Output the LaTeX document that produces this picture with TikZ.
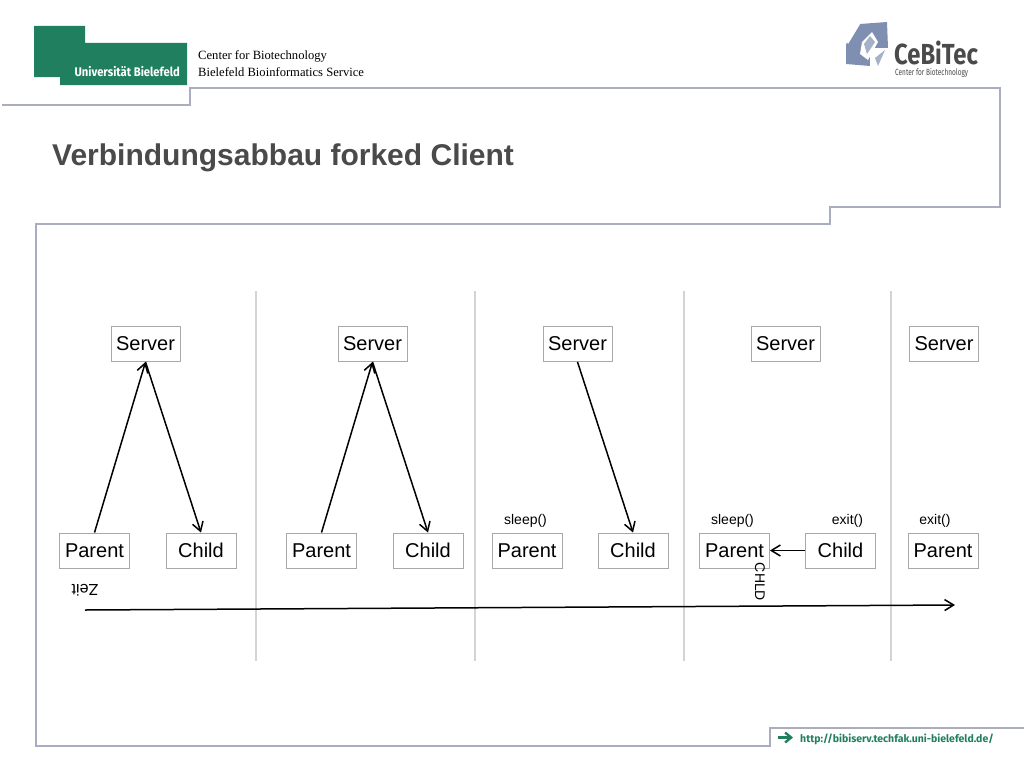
\documentclass[tikz,border=0pt]{standalone}
\usepackage{fontspec}
\usetikzlibrary{arrows.meta}
\setmainfont{Liberation Sans}
\newfontfamily\serifF{Liberation Serif}
\newfontfamily\condF{Fira Sans}
\definecolor{framec}{HTML}{A9ADBF}
\definecolor{sepc}{HTML}{D4D4D4}
\definecolor{boxc}{HTML}{A8A8A8}
\definecolor{greenc}{HTML}{1F7F5F}
\definecolor{titlec}{HTML}{4A4A4A}
\definecolor{logoblue}{HTML}{7F8FB2}
\tikzset{
  framel/.style={draw=framec,line width=1.6pt},
  sepl/.style={draw=sepc,line width=1.3pt},
  pbox/.style={draw=boxc,line width=0.9pt,fill=white,minimum height=35pt,inner sep=0pt,font=\fontsize{20}{22}\selectfont,text=black},
  small/.style={inner sep=0pt,font=\fontsize{14}{16}\selectfont,text=black},
  conn/.style={draw=black,line width=1.5pt,-{Straight Barb[length=9pt,width=11pt,line width=1.5pt]}},
}
\begin{document}
\begin{tikzpicture}[x=1pt,y=-1pt]
\useasboundingbox (0,0) rectangle (1024,768);
\fill[white] (0,0) rectangle (1024,768);
% frame
\draw[framel] (2,105) -- (190,105) -- (190,88) -- (1000,88) -- (1000,207) -- (830,207) -- (830,224) -- (36,224) -- (36,746) -- (770,746) -- (770,728) -- (1024,728);
% university logo
\fill[greenc] (34,26) -- (85,26) -- (85,43) -- (187,43) -- (187,85) -- (60,85) -- (60,77) -- (34,77) -- cycle;
\node[anchor=east,inner sep=0pt,text=white] (uni) at (180,72) {\condF\bfseries\fontsize{12.5}{14}\selectfont\scalebox{0.9}[1]{Universität Bielefeld}};
\node[anchor=west,inner sep=0pt,text=black] (cfb) at (198,56) {\serifF\fontsize{12.6}{14}\selectfont Center for Biotechnology};
\node[anchor=west,inner sep=0pt,text=black] (bbs) at (198,72) {\serifF\fontsize{12.6}{14}\selectfont Bielefeld Bioinformatics Service};
% CeBiTec logo
\fill[logoblue] (846,44) -- (851,39) -- (860,24) -- (887,22) -- (888,48) -- (872,48) -- (870,66) -- (846,64) -- cycle;
\fill[white] (852,24) -- (860,24) -- (848,44) -- (845,38) -- cycle;
\fill[white] (862,42) -- (872,32) -- (878,42) -- (868,60) -- (860,54) -- cycle;
\fill[logoblue!70] (864,44) -- (870,36) -- (875,42) -- (867,54) -- cycle;
\fill[white] (870,50) -- (888,48) -- (878,68) -- (870,66) -- cycle;
\fill[logoblue!70] (875,58) -- (885,50) -- (878,66) -- cycle;
\node[anchor=west,inner sep=0pt,text=titlec] (ceb) at (894,53) {\condF\bfseries\fontsize{29}{30}\selectfont\scalebox{0.82}[1]{CeBiTec}};
\node[anchor=west,inner sep=0pt,text=titlec] (cft) at (895,73) {\condF\fontsize{9}{10}\selectfont\scalebox{0.72}[1]{Center for Biotechnology}};
% title
\node[anchor=west,inner sep=0pt,text=titlec] (title) at (52,158) {\bfseries\fontsize{30}{32}\selectfont Verbindungsabbau forked Client};
% separators
\foreach \x in {256,475,684,891} \draw[sepl] (\x,291) -- (\x,661);
% nodes
\node[pbox,minimum width=69pt] (s1) at (145.5,344) {Server};
\node[pbox,minimum width=69pt] (s2) at (372.5,344) {Server};
\node[pbox,minimum width=69pt] (s3) at (577.5,344) {Server};
\node[pbox,minimum width=69pt] (s4) at (785.5,344) {Server};
\node[pbox,minimum width=69pt] (s5) at (944,344) {Server};
\node[pbox,minimum width=70pt] (p1) at (94.5,550.5) {Parent};
\node[pbox,minimum width=70pt] (c1) at (201,550.5) {Child};
\node[pbox,minimum width=70pt] (p2) at (321.5,550.5) {Parent};
\node[pbox,minimum width=70pt] (c2) at (428,550.5) {Child};
\node[pbox,minimum width=70pt] (p3) at (527,550.5) {Parent};
\node[pbox,minimum width=70pt] (c3) at (633,550.5) {Child};
\node[pbox,minimum width=70pt] (p4) at (734.5,550.5) {Parent};
\node[pbox,minimum width=70pt] (c4) at (840.5,550.5) {Child};
\node[pbox,minimum width=70pt] (p5) at (943,550.5) {Parent};
% connectors
\draw[conn] (p1.north) -- (s1.south);
\draw[conn] (s1.south) -- (c1.north);
\draw[conn] (p2.north) -- (s2.south);
\draw[conn] (s2.south) -- (c2.north);
\draw[conn] (s3.south) -- (c3.north);
\draw[conn] (c4.west) -- (p4.east);
% labels
\node[small] (l1) at (525.5,521) {sleep()};
\node[small] (l2) at (732.5,521) {sleep()};
\node[small] (l3) at (847.5,521) {exit()};
\node[small] (l4) at (935,521) {exit()};
\node[small,rotate=-90] (l5) at (760,582) {CHLD};
\node[inner sep=0pt,rotate=180,font=\fontsize{16}{18}\selectfont] (zeit) at (85,590) {Zeit};
% time arrow
\coordinate (ta) at (85,610);
\coordinate (tb) at (955,605);
\draw[conn] (ta) -- (tb);
% footer link
\draw[greenc,line width=2.4pt,-{Straight Barb[length=6pt,width=10pt,line width=2.4pt]}] (778,737.5) coordinate (fa) -- (793,737.5) coordinate (fb);
\node[anchor=west,inner sep=0pt,text=greenc] (url) at (800,739) {\condF\bfseries\fontsize{10.5}{12}\selectfont http://bibiserv.techfak.uni-bielefeld.de/};
\end{tikzpicture}
\end{document}
